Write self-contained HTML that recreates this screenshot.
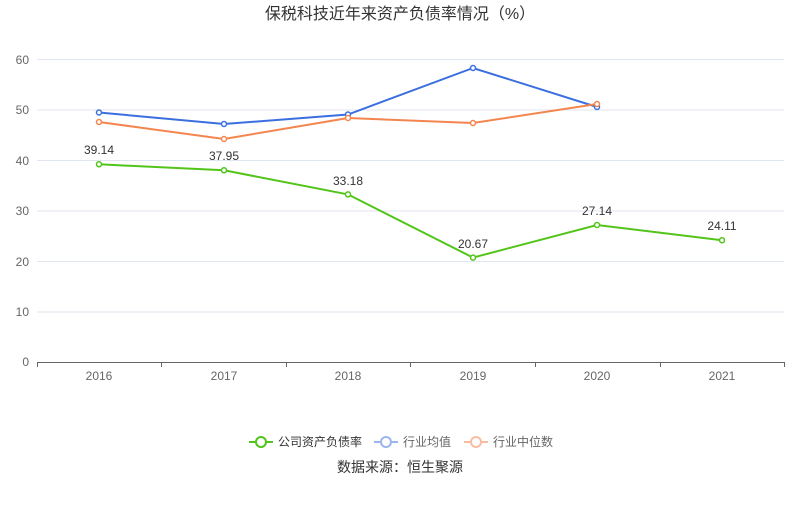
<!DOCTYPE html>
<html><head><meta charset="utf-8"><style>
body{margin:0;background:#fff;}
svg text{font-family:"Liberation Sans","Noto Sans CJK SC",sans-serif;}
</style></head><body>
<svg width="800" height="501" xmlns="http://www.w3.org/2000/svg">
<text x="400" y="19" text-anchor="middle" font-size="16" fill="#333">保税科技近年来资产负债率情况（%）</text>
<g stroke="#e0e6f1" stroke-width="1">
<line x1="37" y1="59.5" x2="784" y2="59.5"/>
<line x1="37" y1="110" x2="784" y2="110"/>
<line x1="37" y1="160.5" x2="784" y2="160.5"/>
<line x1="37" y1="211" x2="784" y2="211"/>
<line x1="37" y1="261.5" x2="784" y2="261.5"/>
<line x1="37" y1="312" x2="784" y2="312"/>
</g>
<line x1="37" y1="362.5" x2="784" y2="362.5" stroke="#666"/>
<g stroke="#666">
<line x1="37.5" y1="362" x2="37.5" y2="367"/><line x1="161.5" y1="362" x2="161.5" y2="367"/><line x1="286.5" y1="362" x2="286.5" y2="367"/><line x1="410.5" y1="362" x2="410.5" y2="367"/><line x1="535.5" y1="362" x2="535.5" y2="367"/><line x1="660.5" y1="362" x2="660.5" y2="367"/><line x1="784.5" y1="362" x2="784.5" y2="367"/>
</g>
<g font-size="12" fill="#666" text-anchor="end">
<text x="29" y="64">60</text><text x="29" y="114">50</text><text x="29" y="165">40</text><text x="29" y="215">30</text><text x="29" y="266">20</text><text x="29" y="316">10</text><text x="29" y="366">0</text>
</g>
<g font-size="12" fill="#666" text-anchor="middle">
<text x="99" y="380">2016</text><text x="224" y="380">2017</text><text x="348" y="380">2018</text><text x="473" y="380">2019</text><text x="597" y="380">2020</text><text x="722" y="380">2021</text>
</g>
<polyline fill="none" stroke="#3b6fe0" stroke-width="2" points="99,112.5 224,124 348,114.5 473,68 597,107"/>
<polyline fill="none" stroke="#f4854e" stroke-width="2" points="99,122 224,139 348,118 473,123 597,104"/>
<polyline fill="none" stroke="#52c41a" stroke-width="2" points="99,164.3 224,170.3 348,194.4 473,257.6 597,225 722,240.2"/>
<g fill="#fff" stroke="#3b6fe0" stroke-width="1.5"><circle cx="99" cy="112.5" r="2.5"/><circle cx="224" cy="124" r="2.5"/><circle cx="348" cy="114.5" r="2.5"/><circle cx="473" cy="68" r="2.5"/><circle cx="597" cy="107" r="2.5"/></g>
<g fill="#fff" stroke="#f4854e" stroke-width="1.5"><circle cx="99" cy="122" r="2.5"/><circle cx="224" cy="139" r="2.5"/><circle cx="348" cy="118" r="2.5"/><circle cx="473" cy="123" r="2.5"/><circle cx="597" cy="104" r="2.5"/></g>
<g fill="#fff" stroke="#52c41a" stroke-width="1.5"><circle cx="99" cy="164.3" r="2.5"/><circle cx="224" cy="170.3" r="2.5"/><circle cx="348" cy="194.4" r="2.5"/><circle cx="473" cy="257.6" r="2.5"/><circle cx="597" cy="225" r="2.5"/><circle cx="722" cy="240.2" r="2.5"/></g>
<g font-size="12" fill="#333" text-anchor="middle">
<text x="99" y="154">39.14</text><text x="224" y="160">37.95</text><text x="348" y="185">33.18</text><text x="473" y="248">20.67</text><text x="597" y="215">27.14</text><text x="722" y="230">24.11</text>
</g>
<g font-size="12" fill="#333">
<line x1="249" y1="442" x2="273" y2="442" stroke="#52c41a" stroke-width="2"/><circle cx="261" cy="442" r="5" fill="#fff" stroke="#52c41a" stroke-width="2"/>
<text x="278" y="446">公司资产负债率</text>
<line x1="374" y1="442" x2="398" y2="442" stroke="#9bb6ee" stroke-width="2"/><circle cx="386" cy="442" r="5" fill="#fff" stroke="#9bb6ee" stroke-width="2"/>
<text x="403" y="446" fill="#666">行业均值</text>
<line x1="464" y1="442" x2="488" y2="442" stroke="#f8bda0" stroke-width="2"/><circle cx="476" cy="442" r="5" fill="#fff" stroke="#f8bda0" stroke-width="2"/>
<text x="493" y="446" fill="#666">行业中位数</text>
</g>
<text x="400" y="472" text-anchor="middle" font-size="14" fill="#333">数据来源：恒生聚源</text>
</svg>
</body></html>
